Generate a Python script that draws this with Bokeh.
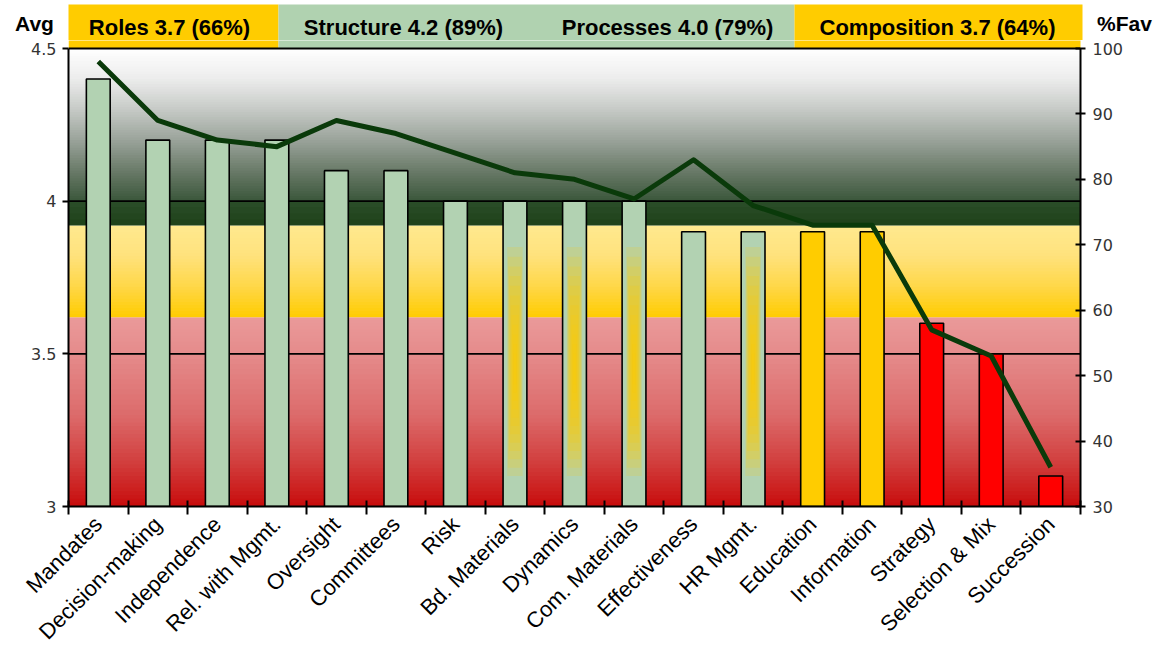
import math
from bokeh.plotting import figure
from bokeh.layouts import column
from bokeh.models import Range1d, LinearAxis, FixedTicker, ColumnDataSource
from bokeh.core.properties import value
from bokeh.embed import file_html
from bokeh.resources import INLINE

# ---------------- data ----------------
categories = ["Mandates", "Decision-making", "Independence", "Rel. with Mgmt.",
              "Oversight", "Committees", "Risk", "Bd. Materials", "Dynamics",
              "Com. Materials", "Effectiveness", "HR Mgmt.", "Education",
              "Information", "Strategy", "Selection & Mix", "Succession"]
avg_values = [4.4, 4.2, 4.2, 4.2, 4.1, 4.1, 4.0, 4.0, 4.0, 4.0,
              3.9, 3.9, 3.9, 3.9, 3.6, 3.5, 3.1]
fav_values = [98, 89, 86, 85, 89, 87, 84, 81, 80, 77,
              83, 76, 73, 73, 57, 53, 36]
bar_groups = ["green"] * 12 + ["yellow"] * 2 + ["red"] * 3
glow_bars = ["Bd. Materials", "Dynamics", "Com. Materials", "HR Mgmt."]
section_labels = ["Roles 3.7 (66%)", "Structure 4.2 (89%)",
                  "Processes 4.0 (79%)", "Composition 3.7 (64%)"]
axis_titles = ["Avg", "%Fav"]
left_ticks = [3, 3.5, 4, 4.5]
left_tick_labels = ["3", "3.5", "4", "4.5"]
right_ticks = [30, 40, 50, 60, 70, 80, 90, 100]

# ---------------- layout ----------------
W, H = 1158, 662
TOP_H = 40                                  # height of the header strip figure
FL, FR, FB = 68, 1080, 506                  # frame edges (absolute px)
Y_TOP_PX = 48                               # px of 4.5 / 100
ppu_avg = (FB - Y_TOP_PX) / 1.5
ppu_fav = (FB - Y_TOP_PX) / 70.0
n = len(categories)
x0, x1 = 0.5, n + 0.5
ppx = (FR - FL) / (x1 - x0)
y_end = 3 + (FB - TOP_H) / ppu_avg
fav_end = 30 + (FB - TOP_H) / ppu_fav

HDR_COLORS = ["#ffcc00", "#b0d2b0", "#ffcc00"]
hdr_px = [(FL, 278), (278, 794), (794, FR + 2)]

def px2x(px):
    return x0 + (px - FL) / ppx

# ---------------- header strip figure ----------------
top = figure(width=W, height=TOP_H, output_backend="svg", toolbar_location=None,
             x_range=Range1d(0, W), y_range=Range1d(TOP_H, 0),
             min_border_left=0, min_border_right=0, min_border_top=0,
             min_border_bottom=0, x_axis_location=None, y_axis_location=None)
top.frame_align = False
top.outline_line_color = None
top.grid.visible = False
top.background_fill_color = "white"
top.border_fill_color = "white"
top.quad(left=[a for a, b in hdr_px], right=[b for a, b in hdr_px],
         top=4, bottom=TOP_H + 2, fill_color=HDR_COLORS, line_color=None)
top.text(x=[169, 403, 667, 937], y=[27] * 4, text=section_labels,
         text_font=value("Liberation Sans"), text_font_style="bold",
         text_font_size="22px", text_align="center", text_baseline="middle",
         text_color="black")
top.text(x=[34, 1124], y=[23, 23], text=axis_titles,
         text_font=value("Liberation Sans"), text_font_style="bold",
         text_font_size="21px", text_align="center", text_baseline="middle",
         text_color="black")

# ---------------- main figure ----------------
MH = H - TOP_H
p = figure(width=W, height=MH, output_backend="svg", toolbar_location=None,
           x_range=Range1d(x0, x1), y_range=Range1d(3, y_end),
           min_border_left=FL, min_border_right=W - FR,
           min_border_top=0, min_border_bottom=H - FB)
p.frame_align = False
p.extra_y_ranges = {"fav": Range1d(30, fav_end)}
p.outline_line_color = None
p.xgrid.visible = False
p.ygrid.visible = False
p.background_fill_color = "white"
p.border_fill_color = "white"

def lerp_color(c0, c1, t):
    a = [int(c0[i:i + 2], 16) for i in (1, 3, 5)]
    b = [int(c1[i:i + 2], 16) for i in (1, 3, 5)]
    return "#%02x%02x%02x" % tuple(round(a[k] + (b[k] - a[k]) * t) for k in range(3))

def gradient(stops, steps=20):
    # stops: list of (y, color) from bottom to top
    bottoms, tops, colors = [], [], []
    ov = 2.0 / ppu_avg
    for (ya, ca), (yb, cb) in zip(stops[:-1], stops[1:]):
        dy = (yb - ya) / steps
        for k in range(steps):
            t = (k + 0.5) / steps
            bottoms.append(ya + k * dy)
            tops.append(min(ya + (k + 1) * dy + ov, stops[-1][0]))
            colors.append(lerp_color(ca, cb, t))
    p.quad(left=x0, right=x1, bottom=bottoms, top=tops, fill_color=colors,
           line_color=None)

gradient([(3.0, "#c80c0c"), (3.15, "#d2403f"), (3.3, "#dc6b6b"),
          (3.5, "#e58b8b"), (3.62, "#ea9a9a")], steps=12)
gradient([(3.62, "#ffcc00"), (3.72, "#ffd748"), (3.82, "#ffe27c"),
          (3.92, "#ffe98f")], steps=10)
gradient([(3.92, "#1e4119"), (4.0, "#2b4e29")], steps=4)
gradient([(4.0, "#3a563a"), (4.1, "#6a7b69"), (4.2, "#9aa39a"),
          (4.3, "#c6cac6"), (4.4, "#ececec"), (4.5, "#ffffff")], steps=12)

# header continuation down to the 4.5 line
p.quad(left=[px2x(a) for a, b in hdr_px], right=[px2x(b) for a, b in hdr_px],
       bottom=4.5, top=y_end + 0.05, fill_color=HDR_COLORS, line_color=None)

# grid lines
p.segment(x0=[x0] * 3, x1=[x1] * 3, y0=[3.5, 4.0, 4.5], y1=[3.5, 4.0, 4.5],
          line_color="black", line_width=[1.6, 1.6, 2.2])

# ---------------- bars ----------------
color_map = {"green": "#b2d2b2", "yellow": "#ffcc00", "red": "#ff0000"}
xs = list(range(1, n + 1))
src = ColumnDataSource(dict(x=xs, top=avg_values,
                            color=[color_map[g] for g in bar_groups]))
p.vbar(x="x", top="top", bottom=3, width=0.4, fill_color="color",
       line_color="black", line_width=1.6, source=src)

# yellow glow inside some bars
glow_x = [xs[categories.index(c)] for c in glow_bars]
layers = 12
for k in range(layers):
    t = k / (layers - 1)
    w = 0.26 - 0.22 * t
    yb = 3.1 + 0.3 * t
    yt = 3.85 - 0.35 * t
    p.quad(left=[gx - w / 2 for gx in glow_x], right=[gx + w / 2 for gx in glow_x],
           bottom=yb, top=yt, fill_color="#ffcc00", fill_alpha=0.17,
           line_color=None)

# ---------------- line ----------------
p.line(x=xs, y=fav_values, y_range_name="fav", line_color="#0a3a0a",
       line_width=5, line_join="round")

# ---------------- axes ----------------
xa = p.xaxis[0]
xa.ticker = FixedTicker(ticks=xs, minor_ticks=[i + 0.5 for i in range(n + 1)])
xa.major_label_overrides = {x: c for x, c in zip(xs, categories)}
xa.major_label_orientation = math.pi / 4
xa.major_tick_in = 0
xa.major_tick_out = 0
xa.minor_tick_in = 6
xa.minor_tick_out = 8
xa.minor_tick_line_color = "black"
xa.minor_tick_line_width = 2
xa.axis_line_color = "black"
xa.axis_line_width = 2
xa.major_label_text_font = "Liberation Sans"
xa.major_label_text_font_size = "22px"
xa.major_label_text_color = "black"
xa.major_label_standoff = 6

ya = p.yaxis[0]
ya.bounds = (3, 4.5)
ya.ticker = FixedTicker(ticks=left_ticks, minor_ticks=[])
ya.major_label_overrides = {t: l for t, l in zip(left_ticks, left_tick_labels)}
ya.major_tick_in = 0
ya.major_tick_out = 6
ya.major_tick_line_width = 2
ya.axis_line_width = 2
ya.axis_line_color = "black"
ya.major_label_text_font = "DejaVu Sans"
ya.major_label_text_font_size = "16px"
ya.major_label_text_color = "#333333"
ya.major_label_standoff = 6

ra = LinearAxis(y_range_name="fav", bounds=(30, 100),
                ticker=FixedTicker(ticks=right_ticks, minor_ticks=[]))
ra.major_tick_in = 5
ra.major_tick_out = 5
ra.major_tick_line_width = 2
ra.axis_line_width = 2
ra.axis_line_color = "black"
ra.major_label_text_font = "DejaVu Sans"
ra.major_label_text_font_size = "16px"
ra.major_label_text_color = "#333333"
ra.major_label_standoff = 7
p.add_layout(ra, "right")

layout = column(top, p, spacing=0)
open("out.html", "w").write(file_html(layout, INLINE))
